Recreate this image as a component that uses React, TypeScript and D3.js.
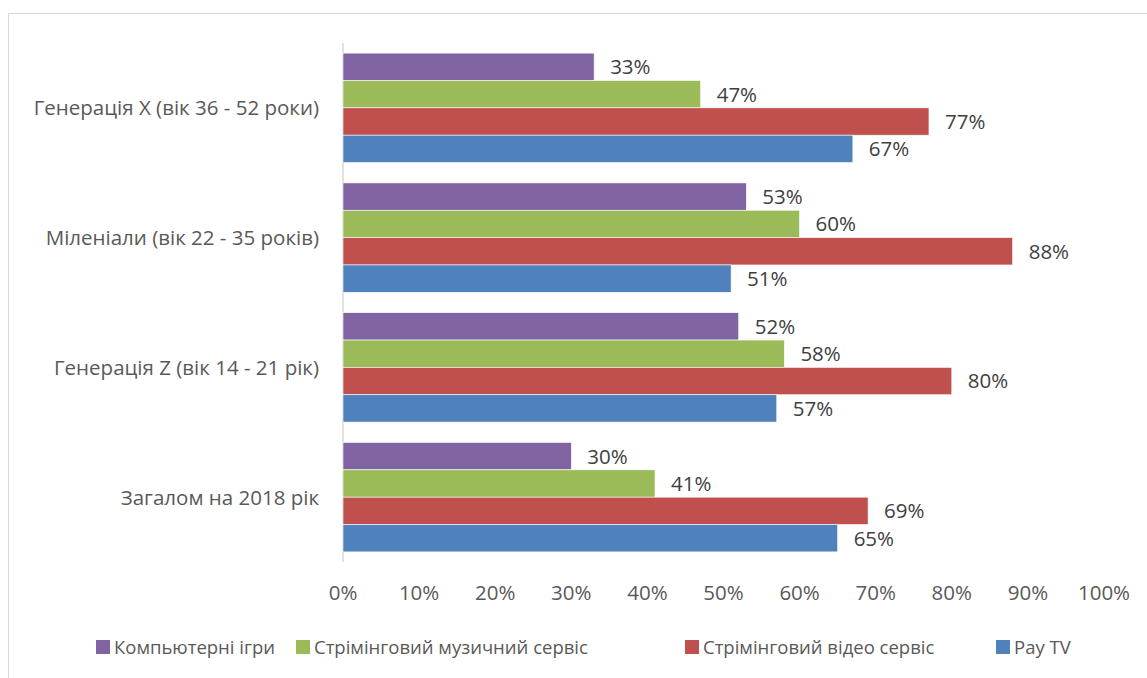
import React, { useRef, useEffect } from "react";
import * as d3 from "d3";

const categories = [
  "Генерація X (вік 36 - 52 роки)",
  "Міленіали (вік 22 - 35 років)",
  "Генерація Z (вік 14 - 21 рік)",
  "Загалом на 2018 рік",
];
const seriesNames = [
  "Компьютерні ігри",
  "Стрімінговий музичний сервіс",
  "Стрімінговий відео сервіс",
  "Pay TV",
];
const seriesColors = ["#8064A2", "#9BBB59", "#C0504D", "#4F81BD"];
const games = [33, 53, 52, 30];
const music = [47, 60, 58, 41];
const video = [77, 88, 80, 69];
const payTv = [67, 51, 57, 65];
const tickValues = [0, 10, 20, 30, 40, 50, 60, 70, 80, 90, 100];

const App = () => {
  const svgRef = useRef<SVGSVGElement>(null);

  useEffect(() => {
    const width = 1147;
    const height = 678;
    const font = "'Open Sans', 'DejaVu Sans', sans-serif";
    const fs = 20.5;
    const series = [games, music, video, payTv];

    const svg = d3.select(svgRef.current);
    svg.selectAll("*").remove();
    svg.attr("width", width).attr("height", height);

    svg
      .append("rect")
      .attr("width", width)
      .attr("height", height)
      .attr("fill", "#fff");

    // outer frame
    svg
      .append("rect")
      .attr("x", 8.5)
      .attr("y", 13.5)
      .attr("width", width + 10)
      .attr("height", height + 10)
      .attr("fill", "none")
      .attr("stroke", "#d9d9d9")
      .attr("stroke-width", 1);

    const x = d3.scaleLinear().domain([0, 100]).range([343, 1104]);
    const y = d3.scaleBand().domain(categories).range([43, 562]).paddingInner(0.157).paddingOuter(0.078);
    const ySub = d3
      .scaleBand()
      .domain(seriesNames)
      .range([0, y.bandwidth()]);

    // category axis line
    svg
      .append("line")
      .attr("x1", x(0))
      .attr("x2", x(0))
      .attr("y1", 43)
      .attr("y2", 562)
      .attr("stroke", "#d9d9d9")
      .attr("stroke-width", 1.5);

    const groups = svg
      .append("g")
      .selectAll("g")
      .data(categories)
      .join("g")
      .attr("transform", (d) => `translate(0,${y(d)})`);

    groups.each(function (cat, ci) {
      const g = d3.select(this);
      seriesNames.forEach((s, si) => {
        const v = series[si][ci];
        g.append("rect")
          .attr("x", x(0))
          .attr("y", ySub(s)!)
          .attr("width", x(v) - x(0))
          .attr("height", ySub.bandwidth())
          .attr("fill", seriesColors[si])
          .attr("stroke", "#fff")
          .attr("stroke-width", 0.6);
        g.append("text")
          .attr("x", x(v) + 16)
          .attr("y", ySub(s)! + ySub.bandwidth() / 2)
          .attr("dy", "0.36em")
          .attr("fill", "#404040")
          .attr("font-family", font)
          .attr("font-size", fs)
          .text(`${v}%`);
      });
    });

    // category labels
    svg
      .append("g")
      .selectAll("text")
      .data(categories)
      .join("text")
      .attr("x", 319)
      .attr("y", (d) => y(d)! + y.bandwidth() / 2)
      .attr("dy", "0.36em")
      .attr("text-anchor", "end")
      .attr("fill", "#595959")
      .attr("font-family", font)
      .attr("font-size", fs)
      .text((d) => d);

    // x tick labels
    svg
      .append("g")
      .selectAll("text")
      .data(tickValues)
      .join("text")
      .attr("x", (d) => x(d))
      .attr("y", 593)
      .attr("dy", "0.36em")
      .attr("text-anchor", "middle")
      .attr("fill", "#595959")
      .attr("font-family", font)
      .attr("font-size", fs)
      .text((d) => `${d}%`);

    // legend
    const legendX = [96, 296, 685, 996];
    const legend = svg
      .append("g")
      .selectAll("g")
      .data(seriesNames)
      .join("g")
      .attr("transform", (d, i) => `translate(${legendX[i]},647)`);
    legend
      .append("rect")
      .attr("x", 0)
      .attr("y", -7)
      .attr("width", 14)
      .attr("height", 14)
      .attr("fill", (d, i) => seriesColors[i]);
    legend
      .append("text")
      .attr("x", 18)
      .attr("y", 0)
      .attr("dy", "0.36em")
      .attr("fill", "#595959")
      .attr("font-family", font)
      .attr("font-size", 18.5)
      .text((d) => d);
  }, []);

  return (
    <svg
      ref={svgRef}
      style={{ position: "absolute", left: 0, top: 0, display: "block" }}
    ></svg>
  );
};

export default App;
